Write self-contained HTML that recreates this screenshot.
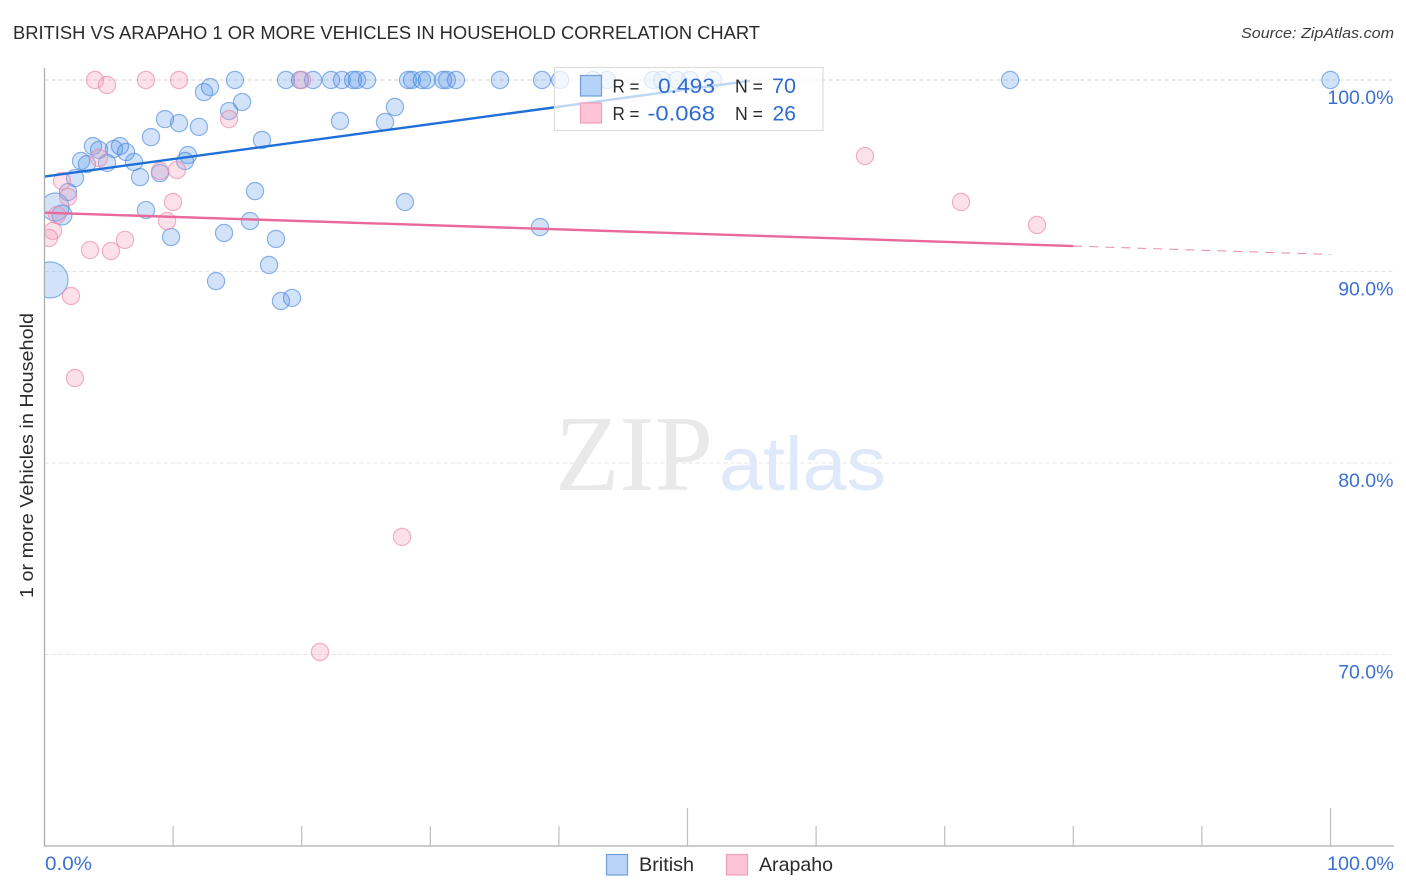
<!DOCTYPE html>
<html lang="en">
<head>
<meta charset="utf-8">
<title>British vs Arapaho 1 or More Vehicles in Household Correlation Chart</title>
<style>
  html, body { margin: 0; padding: 0; background: #fff; }
  svg { display: block; font-family: "Liberation Sans", sans-serif; }
</style>
</head>
<body>
<svg id="chart" xmlns="http://www.w3.org/2000/svg" width="1406" height="892" viewBox="0 0 1406 892">
  <defs>
    <clipPath id="plot-clip"><rect x="44.5" y="60" width="1350" height="786"></rect></clipPath>
  </defs>
  <rect x="0" y="0" width="1406" height="892" fill="#fff"></rect>

  <text x="13" y="39" font-size="18" fill="#2b2b2b" textLength="747" lengthAdjust="spacingAndGlyphs">BRITISH VS ARAPAHO 1 OR MORE VEHICLES IN HOUSEHOLD CORRELATION CHART</text>
  <text x="1241" y="38" font-size="15" font-style="italic" fill="#3c3c3c" textLength="153" lengthAdjust="spacingAndGlyphs">Source: ZipAtlas.com</text>

  <g id="grid"></g>

  <g>
    <text x="555" y="490" font-family="'Liberation Serif', serif" font-size="108" fill="#e9e9e9" textLength="158" lengthAdjust="spacingAndGlyphs">ZIP</text>
    <text x="719" y="490" font-size="76" fill="#dfe9f9" textLength="167" lengthAdjust="spacingAndGlyphs">atlas</text>
  </g>

  <g id="british-points" clip-path="url(#plot-clip)"></g>
  <g id="arapaho-points" clip-path="url(#plot-clip)"></g>
  <g id="trends"></g>

  <g id="axes">
    <line x1="44.5" y1="68" x2="44.5" y2="846" stroke="#adadad" stroke-width="1.3"></line>
    <line x1="44" y1="846" x2="1394" y2="846" stroke="#adadad" stroke-width="1.3"></line>
  </g>
  <g id="y-tick-labels"></g>

  <text x="45" y="870" font-size="19.5" fill="#3b70d3" textLength="47" lengthAdjust="spacingAndGlyphs">0.0%</text>
  <text x="1327" y="870" font-size="19.5" fill="#3b70d3" textLength="67" lengthAdjust="spacingAndGlyphs">100.0%</text>

  <text transform="translate(33,598) rotate(-90)" x="0" y="0" font-size="18.5" fill="#2b2b2b" textLength="285" lengthAdjust="spacingAndGlyphs">1 or more Vehicles in Household</text>

  <g>
    <rect x="554.5" y="67.5" width="268.5" height="63" fill="#fff" fill-opacity="0.72" stroke="#dcdcdc" stroke-width="1.2"></rect>
    <rect x="580.5" y="75.5" width="21" height="20.5" fill="#b5d2f8" stroke="#6f9fdc" stroke-width="1.2"></rect>
    <rect x="580.5" y="103" width="21" height="20" fill="#fdc4d8" stroke="#f0a0ba" stroke-width="1.2"></rect>
    <text x="612.5" y="92.5" font-size="18" fill="#2b2b2b" textLength="27" lengthAdjust="spacingAndGlyphs">R =</text>
    <text x="658" y="93" font-size="21" fill="#2f6bd0" textLength="57" lengthAdjust="spacingAndGlyphs">0.493</text>
    <text x="735" y="92.5" font-size="18" fill="#2b2b2b" textLength="28" lengthAdjust="spacingAndGlyphs">N =</text>
    <text x="772" y="93" font-size="21" fill="#2f6bd0" textLength="24" lengthAdjust="spacingAndGlyphs">70</text>
    <text x="612.5" y="120" font-size="18" fill="#2b2b2b" textLength="27" lengthAdjust="spacingAndGlyphs">R =</text>
    <text x="647.5" y="120.5" font-size="21" fill="#2f6bd0" textLength="67.5" lengthAdjust="spacingAndGlyphs">-0.068</text>
    <text x="735" y="120" font-size="18" fill="#2b2b2b" textLength="28" lengthAdjust="spacingAndGlyphs">N =</text>
    <text x="772.5" y="120.5" font-size="21" fill="#2f6bd0" textLength="23.5" lengthAdjust="spacingAndGlyphs">26</text>
  </g>

  <g>
    <rect x="606.5" y="854.5" width="21" height="20.5" fill="#b9d4f8" stroke="#6f9fdc" stroke-width="1.2"></rect>
    <text x="639" y="871" font-size="19.5" fill="#2b2b2b" textLength="55" lengthAdjust="spacingAndGlyphs">British</text>
    <rect x="726.5" y="854.5" width="21" height="20.5" fill="#fdc4d8" stroke="#f0a0ba" stroke-width="1.2"></rect>
    <text x="759" y="871" font-size="19.5" fill="#2b2b2b" textLength="74" lengthAdjust="spacingAndGlyphs">Arapaho</text>
  </g>
</svg>

<script>
// Chart data (percent values)
const yTicks = [100, 90, 80, 70];
const yTickLabels = ["100.0%", "90.0%", "80.0%", "70.0%"];
const xTicks = [10, 20, 30, 40, 50, 60, 70, 80, 90, 100];
const xMajorTicks = [50, 100];

const britishX = [14.81, 18.78, 19.87, 20.88, 22.28, 23.13, 23.99, 24.30, 25.08, 28.27, 28.58, 29.35, 29.74, 30.99, 31.30, 32.00, 35.42, 38.69, 40.09, 42.65, 43.74, 47.32, 48.02, 49.18, 50.19, 51.98, 75.08, 100.0,
  12.40, 12.87, 15.36, 14.35, 22.98, 9.37, 10.46, 12.01, 16.91, 8.28, 3.77, 4.24, 5.40, 5.87, 6.34, 2.84, 3.30, 4.86, 6.96, 11.16, 10.93, 2.37, 7.43, 8.98, 1.83, 16.37, 0.82, 1.36, 7.89, 15.98, 9.84, 13.96, 18.00, 17.46, 13.34, 18.39, 19.25, 0.43, 27.25, 26.48, 28.03, 38.53];
const britishY = [100, 100, 100, 100, 100, 100, 100, 100, 100, 100, 100, 100, 100, 100, 100, 100, 100, 100, 100, 100, 100, 100, 100, 100, 100, 100, 100, 100,
  99.37, 99.63, 98.85, 98.38, 97.86, 97.96, 97.75, 97.55, 96.87, 97.02, 96.55, 96.35, 96.40, 96.55, 96.24, 95.77, 95.61, 95.67, 95.72, 96.08, 95.77, 94.88, 94.93, 95.14, 94.15, 94.20, 93.37, 92.95, 93.21, 92.64, 91.80, 92.01, 91.70, 90.34, 89.50, 88.46, 88.62, 89.56, 98.59, 97.81, 93.63, 92.32];
const britishWeight = [1, 1, 1, 1, 1, 1, 1, 1, 1, 1, 1, 1, 1, 1, 1, 1, 1, 1, 1, 1, 1, 1, 1, 1, 1, 1, 1, 1,
  1, 1, 1, 1, 1, 1, 1, 1, 1, 1, 1, 1, 1, 1, 1, 1, 1, 1, 1, 1, 1, 1, 1, 1, 1, 1, 2.65, 1.35, 1, 1, 1, 1, 1, 1, 1, 1, 1, 4.4, 1, 1, 1, 1];

const arapahoX = [3.93, 4.86, 7.89, 10.46, 20.02, 14.35, 4.24, 8.98, 10.30, 1.36, 1.83, 9.99, 0.97, 9.53, 0.66, 0.35, 6.26, 3.54, 5.17, 2.06, 2.37, 27.80, 21.42, 63.80, 71.27, 77.18];
const arapahoY = [100, 99.74, 100, 100, 100, 97.96, 95.93, 95.25, 95.30, 94.73, 93.89, 93.63, 92.95, 92.64, 92.12, 91.75, 91.65, 91.12, 91.07, 88.72, 84.44, 76.14, 70.13, 96.03, 93.63, 92.43];

const britishTrendX = [0, 54.86];
const britishTrendY = [94.96, 99.96];
const arapahoTrendX = [0, 80.0];
const arapahoTrendY = [93.07, 91.33];
const arapahoForecastX = [80.0, 100];
const arapahoForecastY = [91.33, 90.89];

// Axis functions
const xScale = function (v) { return 44.5 + 12.86 * v; };
const yScale = function (v) { return 80 + (100 - v) * 19.15; };
const rScale = function (w) { return 8.6 * Math.sqrt(w); };

const SVG_NS = "http://www.w3.org/2000/svg";
const make = function (tag, parentId) {
  const el = document.createElementNS(SVG_NS, tag);
  document.getElementById(parentId).appendChild(el);
  return el;
};

// Grid lines and y tick labels
yTicks.forEach(function (tick, i) {
  const line = make("line", "grid");
  
  
  line.setAttribute("x1", 44.5);
  line.setAttribute("x2", 1394);
  line.setAttribute("y1", yScale(tick));
  line.setAttribute("y2", yScale(tick));
  line.setAttribute("stroke", tick === 100 ? "#d2d2d2" : "#e4e4e4");
  line.setAttribute("stroke-width", "1");
  line.setAttribute("stroke-dasharray", "4 3");

  const label = make("text", "y-tick-labels");
  
  
  label.setAttribute("x", 1393.5);
  label.setAttribute("y", yScale(tick) + 24);
  label.setAttribute("text-anchor", "end");
  label.setAttribute("font-size", "19.5");
  label.setAttribute("fill", "#3b70d3");
  label.textContent = yTickLabels[i];
});

// X ticks
xTicks.forEach(function (tick) {
  const line = make("line", "axes");
  
  
  line.setAttribute("x1", xScale(tick));
  line.setAttribute("x2", xScale(tick));
  line.setAttribute("y1", xMajorTicks.indexOf(tick) >= 0 ? 808 : 826);
  line.setAttribute("y2", 846);
  line.setAttribute("stroke", "#bdbdbd");
  line.setAttribute("stroke-width", "1.2");
});

// British points
britishX.forEach(function (xv, i) {
  const c = make("circle", "british-points");
  
  
  c.setAttribute("cx", xScale(xv));
  c.setAttribute("cy", yScale(britishY[i]));
  c.setAttribute("r", rScale(britishWeight[i]));
  c.setAttribute("fill", "#5a98ea");
  c.setAttribute("fill-opacity", "0.27");
  c.setAttribute("stroke", "#4a87dc");
  c.setAttribute("stroke-opacity", "0.62");
  c.setAttribute("stroke-width", "1.2");
});

// Arapaho points
arapahoX.forEach(function (xv, i) {
  const c = make("circle", "arapaho-points");
  
  
  c.setAttribute("cx", xScale(xv));
  c.setAttribute("cy", yScale(arapahoY[i]));
  c.setAttribute("r", rScale(1));
  c.setAttribute("fill", "#f59ab8");
  c.setAttribute("fill-opacity", "0.3");
  c.setAttribute("stroke", "#ee82a5");
  c.setAttribute("stroke-opacity", "0.62");
  c.setAttribute("stroke-width", "1.2");
});

// Trend lines
const britishTrend = make("line", "trends");


britishTrend.setAttribute("x1", xScale(britishTrendX[0]));
britishTrend.setAttribute("y1", yScale(britishTrendY[0]));
britishTrend.setAttribute("x2", xScale(britishTrendX[1]));
britishTrend.setAttribute("y2", yScale(britishTrendY[1]));
britishTrend.setAttribute("stroke", "#1f6fd8");
britishTrend.setAttribute("stroke-width", "2.4");

const arapahoTrend = make("line", "trends");


arapahoTrend.setAttribute("x1", xScale(arapahoTrendX[0]));
arapahoTrend.setAttribute("y1", yScale(arapahoTrendY[0]));
arapahoTrend.setAttribute("x2", xScale(arapahoTrendX[1]));
arapahoTrend.setAttribute("y2", yScale(arapahoTrendY[1]));
arapahoTrend.setAttribute("stroke", "#e8699a");
arapahoTrend.setAttribute("stroke-width", "2.4");

const arapahoForecast = make("line", "trends");


arapahoForecast.setAttribute("x1", xScale(arapahoForecastX[0]));
arapahoForecast.setAttribute("y1", yScale(arapahoForecastY[0]));
arapahoForecast.setAttribute("x2", xScale(arapahoForecastX[1]));
arapahoForecast.setAttribute("y2", yScale(arapahoForecastY[1]));
arapahoForecast.setAttribute("stroke", "#ea88ab");
arapahoForecast.setAttribute("stroke-width", "1");
arapahoForecast.setAttribute("stroke-dasharray", "9 7");
</script>
</body>
</html>
